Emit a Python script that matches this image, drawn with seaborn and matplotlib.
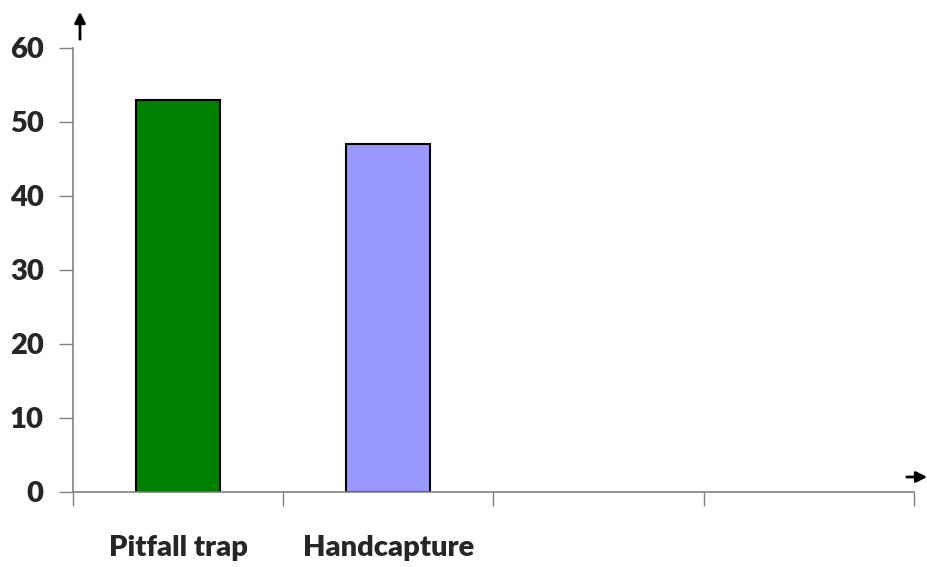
import matplotlib
matplotlib.use("Agg")
import matplotlib.pyplot as plt
import seaborn as sns
import pandas as pd

# Capture method counts
categories = ["Pitfall trap", "Handcapture"]
counts = [53, 47]
slots = ["Pitfall trap", "Handcapture", "", " "]
bar_colors = ["#008000", "#9999FF"]
y_ticks = [0, 10, 20, 30, 40, 50, 60]

sns.set_theme(style="white")
plt.rcParams["font.family"] = ["Lato", "DejaVu Sans"]

df = pd.DataFrame({"method": categories, "count": counts})

fig = plt.figure(figsize=(9.28, 5.67), dpi=100)
ax = fig.add_axes([73 / 928, 75 / 567, (914 - 73) / 928, (492 - 48) / 567])

sns.barplot(data=df, x="method", y="count", hue="method", order=slots,
            hue_order=categories, palette=bar_colors, width=0.4,
            saturation=1, edgecolor="black", linewidth=1.5, legend=False,
            ax=ax)

ax.set_xlim(-0.5, len(slots) - 0.5)
ax.set_ylim(0, 60)
ax.set_xlabel("")
ax.set_ylabel("")

# Category boundaries get tick marks; labels sit at category centres
ax.set_xticks([i - 0.5 for i in range(len(slots) + 1)])
ax.set_xticklabels([])
ax.set_xticks(range(len(categories)), minor=True)
ax.set_xticklabels(categories, minor=True, fontsize=21, fontweight="heavy")
ax.tick_params(axis="x", which="major", direction="out", length=10,
               width=1, color="#808080", bottom=True)
ax.tick_params(axis="x", which="minor", length=0, pad=31, bottom=True)

ax.set_yticks(y_ticks)
ax.set_yticklabels([str(v) for v in y_ticks], fontsize=21, fontweight="heavy")
ax.tick_params(axis="y", direction="out", length=10, width=1,
               color="#808080", left=True, pad=11)

for side in ["top", "right"]:
    ax.spines[side].set_visible(False)
for side in ["left", "bottom"]:
    ax.spines[side].set_color("#808080")
    ax.spines[side].set_linewidth(1.2)

# Axis direction arrows
fig.patches.append(matplotlib.patches.FancyArrowPatch(
    (80 / 928, 1 - 42 / 567), (80 / 928, 1 - 9 / 567),
    transform=fig.transFigure, arrowstyle="-|>", mutation_scale=16,
    color="black", linewidth=2))
fig.patches.append(matplotlib.patches.FancyArrowPatch(
    (904 / 928, 1 - 477 / 567), (930 / 928, 1 - 477 / 567),
    transform=fig.transFigure, arrowstyle="-|>", mutation_scale=16,
    color="black", linewidth=2))

fig.savefig("out.png", dpi=100, facecolor="white")
